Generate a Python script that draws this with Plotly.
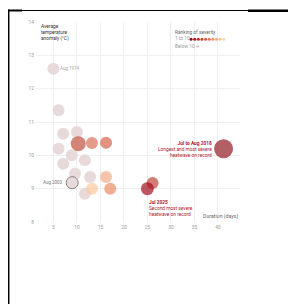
import plotly.graph_objects as go

# ---- data ----
low_dur = [5.0, 6.1, 7.1, 10.0, 6.1, 8.9, 7.1, 11.7, 9.6, 12.8, 11.7]
low_anom = [12.6, 11.35, 10.65, 10.7, 10.2, 10.0, 9.75, 9.85, 9.45, 9.35, 8.85]

aug2003_dur = [9.0]
aug2003_anom = [9.18]

top_dur = [10.3, 13.2, 16.2, 16.2, 17.1, 13.2, 26.1, 25.0, 41.2]
top_anom = [10.35, 10.37, 10.38, 9.35, 9.0, 9.0, 9.17, 9.0, 10.2]
top_size = [15, 12, 12, 12, 12, 12, 12, 13, 19]
top_color = ["#c0533f", "#d97058", "#d4644c", "#f2aa88", "#e98c65", "#fcc9a0",
             "#c2453c", "#a3101f", "#921c21"]

rank_colors = ["#8e0c1c", "#a8141f", "#bd2a2a", "#cc4236", "#d95a44",
               "#e37655", "#ec9068", "#f3a87d", "#f8bf95", "#fcd4ae"]
below_color = "#ebd9d9"

y_ticks = [8, 9, 10, 11, 12, 13, 14]
x_ticks = [5, 10, 15, 20, 25, 30, 35, 40]

FONT = "Roboto"
LOW = "#e8dada"

fig = go.Figure()

fig.add_trace(go.Scatter(x=low_dur, y=low_anom, mode="markers",
                         marker=dict(size=12, color=LOW, line=dict(width=0)),
                         hoverinfo="skip", showlegend=False))
fig.add_trace(go.Scatter(x=aug2003_dur, y=aug2003_anom, mode="markers",
                         marker=dict(size=12, color=LOW, line=dict(width=1, color="#8a8080")),
                         hoverinfo="skip", showlegend=False))
fig.add_trace(go.Scatter(x=top_dur, y=top_anom, mode="markers",
                         marker=dict(size=top_size, color=top_color, line=dict(width=0)),
                         hoverinfo="skip", showlegend=False))

# legend dots (key)
key_x0, key_step, key_y = 34.3, 0.77, 13.48
fig.add_trace(go.Scatter(x=[key_x0 + i * key_step for i in range(len(rank_colors))],
                         y=[key_y] * len(rank_colors), mode="markers",
                         marker=dict(size=3, color=rank_colors), cliponaxis=False,
                         hoverinfo="skip", showlegend=False))
fig.add_trace(go.Scatter(x=[35.75], y=[13.27], mode="markers",
                         marker=dict(size=3, color=below_color), cliponaxis=False,
                         hoverinfo="skip", showlegend=False))

ann = []
ann.append(dict(x=low_dur[0], y=low_anom[0], xref="x", yref="y", text="Aug 1974",
                xanchor="left", yanchor="middle", xshift=5, showarrow=False,
                font=dict(family=FONT, size=4.5, color="#aaaaaa")))
ann.append(dict(x=aug2003_dur[0], y=aug2003_anom[0], xref="x", yref="y", text="Aug 2003",
                xanchor="right", yanchor="middle", xshift=-7, showarrow=False,
                font=dict(family=FONT, size=4.5, color="#777777")))
ann.append(dict(x=top_dur[-1], y=top_anom[-1], xref="x", yref="y",
                text="<b>Jul to Aug 2018</b><br>Longest and most severe<br>heatwave on record",
                xanchor="right", yanchor="middle", align="right", xshift=-10, yshift=-1,
                showarrow=False, font=dict(family=FONT, size=4.8, color="#b0182a")))
ann.append(dict(x=top_dur[-2], y=top_anom[-2], xref="x", yref="y",
                text="<b>Jul 2025</b><br>Second most severe<br>heatwave on record",
                xanchor="left", yanchor="top", align="left", xshift=-0.5, yshift=-9,
                showarrow=False, font=dict(family=FONT, size=4.8, color="#b0182a")))
ann.append(dict(x=0.015, y=1.0, xref="paper", yref="paper",
                text="Average<br>temperature<br>anomaly (°C)",
                xanchor="left", yanchor="top", align="left", showarrow=False,
                font=dict(family=FONT, size=4.8, color="#333333")))
ann.append(dict(x=1.0, y=0.027, xref="paper", yref="paper", text="Duration (days)",
                xanchor="right", yanchor="middle", showarrow=False,
                font=dict(family=FONT, size=5.2, color="#666666")))
ann.append(dict(x=0.672, y=0.95, xref="paper", yref="paper", text="Ranking of severity",
                xanchor="left", yanchor="middle", showarrow=False,
                font=dict(family=FONT, size=4.8, color="#666666")))
ann.append(dict(x=0.672, y=0.915, xref="paper", yref="paper", text="1 to 10",
                xanchor="left", yanchor="middle", showarrow=False,
                font=dict(family=FONT, size=4.8, color="#999999")))
ann.append(dict(x=0.672, y=0.88, xref="paper", yref="paper", text="Below 10 –",
                xanchor="left", yanchor="middle", showarrow=False,
                font=dict(family=FONT, size=4.8, color="#999999")))

# page is offset by 8px body margin; figure-pixel layout values
OFF = 8
L, T, PW, PH = 36 - OFF, 22 - OFF, 204, 200
W, H = 288, 304
def px(x):  # page pixel -> paper x
    return (x - OFF - L) / PW
def py(y):  # page pixel -> paper y
    return (T + PH - (y - OFF)) / PH

shapes = [
    dict(type="line", xref="paper", yref="paper", x0=px(8.2), x1=px(8.2), y0=py(9.5), y1=py(320),
         line=dict(color="black", width=2.5)),
    dict(type="line", xref="paper", yref="paper", x0=px(7), x1=px(249), y0=py(10.5), y1=py(10.5),
         line=dict(color="black", width=1.2)),
    dict(type="line", xref="paper", yref="paper", x0=px(7), x1=px(22), y0=py(10.5), y1=py(10.5),
         line=dict(color="black", width=2)),
    dict(type="line", xref="paper", yref="paper", x0=px(248), x1=px(300), y0=py(10.8), y1=py(10.8),
         line=dict(color="black", width=2.5)),
]

fig.update_layout(
    width=W, height=H,
    margin=dict(l=L, r=W - L - PW, t=T, b=H - T - PH),
    paper_bgcolor="white", plot_bgcolor="white",
    showlegend=False,
    annotations=ann, shapes=shapes,
    font=dict(family=FONT),
    xaxis=dict(range=[1.3, 44.7], tickvals=x_ticks, ticktext=[str(v) for v in x_ticks],
               showgrid=True, gridcolor="#efefef", gridwidth=1, zeroline=False,
               showline=False, ticks="", ticklabelstandoff=1,
               tickfont=dict(family=FONT, size=4.8, color="#999999"), fixedrange=True),
    yaxis=dict(range=[8, 14], tickvals=y_ticks, ticktext=[str(v) for v in y_ticks],
               showgrid=True, gridcolor="#efefef", gridwidth=1, zeroline=False,
               showline=False, ticks="", ticklabelstandoff=1,
               tickfont=dict(family=FONT, size=4.8, color="#999999"), fixedrange=True),
)

fig.write_html("out.html", config={"displayModeBar": False},
               post_script="document.documentElement.style.overflow='hidden';"
                           "document.body.style.overflow='hidden';"
                           "document.body.style.margin='8px 0 0 8px';")
